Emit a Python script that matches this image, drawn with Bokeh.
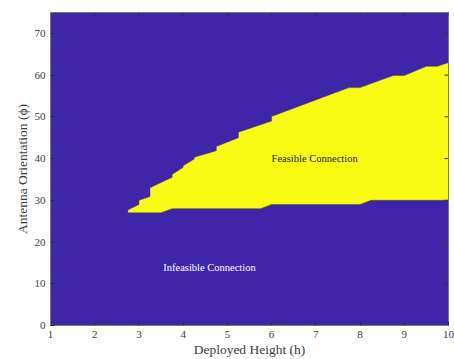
import math
from bokeh.plotting import figure
from bokeh.models import FixedTicker, Range1d, Label
from bokeh.embed import file_html
from bokeh.resources import INLINE

# Deployed height (h) grid points and the boundaries of the feasible region
upper_h = [2.75, 3.0, 3.0, 3.25, 3.25, 3.75, 3.75, 4.0, 4.0, 4.25, 4.25,
           4.75, 4.75, 5.25, 5.25, 6.0, 6.0, 7.75, 8.0, 8.75, 9.0, 9.5, 9.75, 10.0]
upper_phi = [27.7, 29.0, 30.0, 30.9, 33.0, 35.5, 36.2, 37.9, 38.3, 39.9, 40.3,
             41.9, 42.9, 45.0, 46.3, 49.0, 50.1, 57.0, 57.0, 59.9, 59.9, 62.1, 62.1, 63.0]
lower_h = [2.75, 3.5, 3.75, 5.75, 6.0, 8.0, 8.25, 10.0]
lower_phi = [27.0, 27.0, 28.0, 28.0, 29.0, 29.0, 30.0, 30.0]

x_ticks = [1, 2, 3, 4, 5, 6, 7, 8, 9, 10]
y_ticks = [0, 10, 20, 30, 40, 50, 60, 70]
x_lim = (1, 10)
y_lim = (0, 75)

BLUE = "#3E26A8"
YELLOW = "#F9FB15"
FONT = "Liberation Serif"
AXIS_GREY = "#7a7a7a"
TEXT_GREY = "#3a3a3a"
TICK_COLOR = "#333333"

p = figure(width=454, height=359, output_backend="svg", toolbar_location=None,
           x_range=Range1d(*x_lim), y_range=Range1d(*y_lim),
           min_border_left=50, min_border_right=6, min_border_top=12,
           min_border_bottom=34)
p.background_fill_color = BLUE
p.border_fill_color = "white"
p.outline_line_color = AXIS_GREY
p.grid.visible = False

# feasible region polygon: along the upper boundary, back along the lower one
poly_x = upper_h + lower_h[::-1]
poly_y = upper_phi + lower_phi[::-1]
p.patch(poly_x, poly_y, fill_color=YELLOW, line_color="#444433",
        line_width=0.8, line_alpha=0.6)

def style_axis(ax, ticks):
    ax.ticker = FixedTicker(ticks=ticks)
    ax.major_tick_in = 4
    ax.major_tick_out = 0
    ax.minor_tick_in = 0
    ax.minor_tick_out = 0
    ax.axis_line_color = AXIS_GREY
    ax.major_tick_line_color = TICK_COLOR
    ax.major_label_text_font = FONT
    ax.major_label_text_color = TEXT_GREY
    ax.major_label_text_font_size = "11px"
    ax.major_label_standoff = 5
    ax.axis_label_text_font = FONT
    ax.axis_label_text_font_style = "normal"
    ax.axis_label_text_color = TEXT_GREY
    ax.axis_label_text_font_size = "13.5px"

style_axis(p.xaxis[0], x_ticks)
style_axis(p.yaxis[0], y_ticks)
p.xaxis[0].axis_label = "Deployed Height (h)"
p.yaxis[0].axis_label = "Antenna Orientation (ϕ)"
p.xaxis[0].axis_label_standoff = 1
p.yaxis[0].axis_label_standoff = 2

# inward tick marks on the top and right edges of the box
p.ray(x=x_ticks, y=[y_lim[1]] * len(x_ticks), length=4, length_units="screen",
      angle=-math.pi / 2, line_color=TICK_COLOR, line_width=1)
p.ray(x=[x_lim[1]] * len(y_ticks), y=y_ticks, length=4, length_units="screen",
      angle=math.pi, line_color=TICK_COLOR, line_width=1)

p.add_layout(Label(x=6.0, y=40, text="Feasible Connection", text_font=FONT,
                   text_font_size="10.5px", text_color="#1a1a1a",
                   text_baseline="middle", text_align="left"))
p.add_layout(Label(x=3.55, y=14, text="Infeasible Connection", text_font=FONT,
                   text_font_size="10.5px", text_color="white",
                   text_baseline="middle", text_align="left"))

open("out.html", "w").write(file_html(p, INLINE))
